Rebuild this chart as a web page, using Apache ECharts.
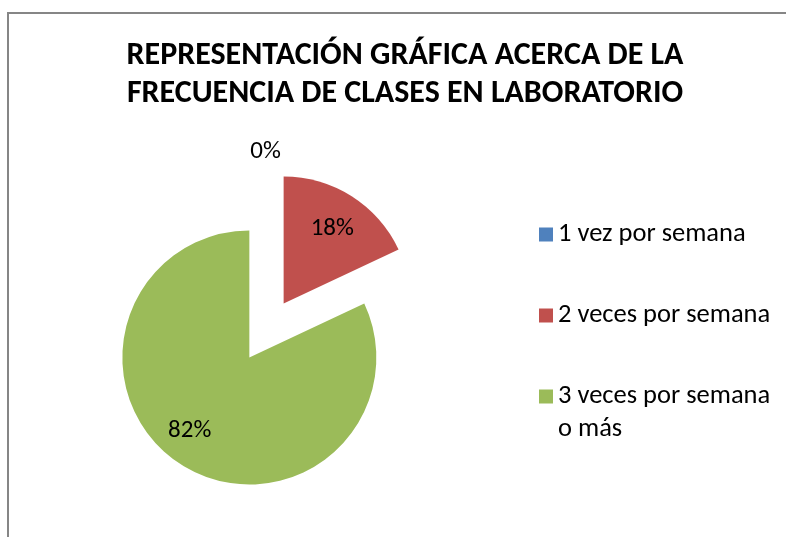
<!DOCTYPE html>
<html><head><meta charset="utf-8">
<script src="https://cdn.jsdelivr.net/npm/echarts@6/dist/echarts.min.js"></script>
<style>html,body{margin:0;padding:0;background:#fff}#c{width:786px;height:537px}</style>
</head><body><div id="c"></div>
<script>
const titleLines = ['REPRESENTACIÓN GRÁFICA ACERCA DE LA', 'FRECUENCIA DE CLASES EN LABORATORIO'];
const categories = ['1 vez por semana', '2 veces por semana', '3 veces por semana o más'];
const legendLabels = ['1 vez por semana', '2 veces por semana', '\n3 veces por semana\no más'];
const values = [0, 18, 82];
const colors = ['#4F81BD', '#C0504D', '#9BBB59'];
const labelShifts = [[-1, -80], [13, -19], [-24, 17]];

const FONT = 'Carlito, "Liberation Sans", Arial, sans-serif';
const chart = echarts.init(document.getElementById('c'), null, {renderer: 'canvas'});

const data = categories.map((n, i) => ({
  name: n, value: values[i], selected: true,
  itemStyle: {color: colors[i]}
}));

const legendTops = [221, 302, 347];
const legends = categories.map((n, i) => ({
  data: [n], orient: 'vertical', left: 539, top: legendTops[i], padding: 0,
  itemWidth: 14, itemHeight: 14, selectedMode: false, icon: 'rect',
  formatter: () => legendLabels[i],
  textStyle: {fontFamily: FONT, fontSize: 26.5, color: '#000', lineHeight: i === 2 ? 33 : 26}
}));

chart.setOption({
  animation: false,
  title: {
    text: titleLines.join('\n'), left: 405, top: 37, padding: 0,
    textAlign: 'center', textVerticalAlign: 'top',
    textStyle: {fontFamily: FONT, fontSize: 32, fontWeight: 'bold', color: '#000', lineHeight: 38}
  },
  legend: legends,
  graphic: [{
    type: 'rect', shape: {x: 8, y: 13, width: 820, height: 600},
    style: {fill: 'none', stroke: '#868686', lineWidth: 2}, silent: true
  }],
  series: [{
    type: 'pie', center: [266.5, 330.5], radius: 127,
    startAngle: 90, clockwise: true,
    selectedMode: 'multiple', selectedOffset: 32,
    avoidLabelOverlap: false,
    label: {
      show: true, position: 'inside', fontFamily: FONT, fontSize: 25, color: '#000',
      formatter: p => Math.round(p.percent) + '%'
    },
    labelLayout: p => ({dx: labelShifts[p.dataIndex][0], dy: labelShifts[p.dataIndex][1]}),
    labelLine: {show: false},
    emphasis: {disabled: true, scale: false},
    data: data
  }]
});
</script></body></html>
